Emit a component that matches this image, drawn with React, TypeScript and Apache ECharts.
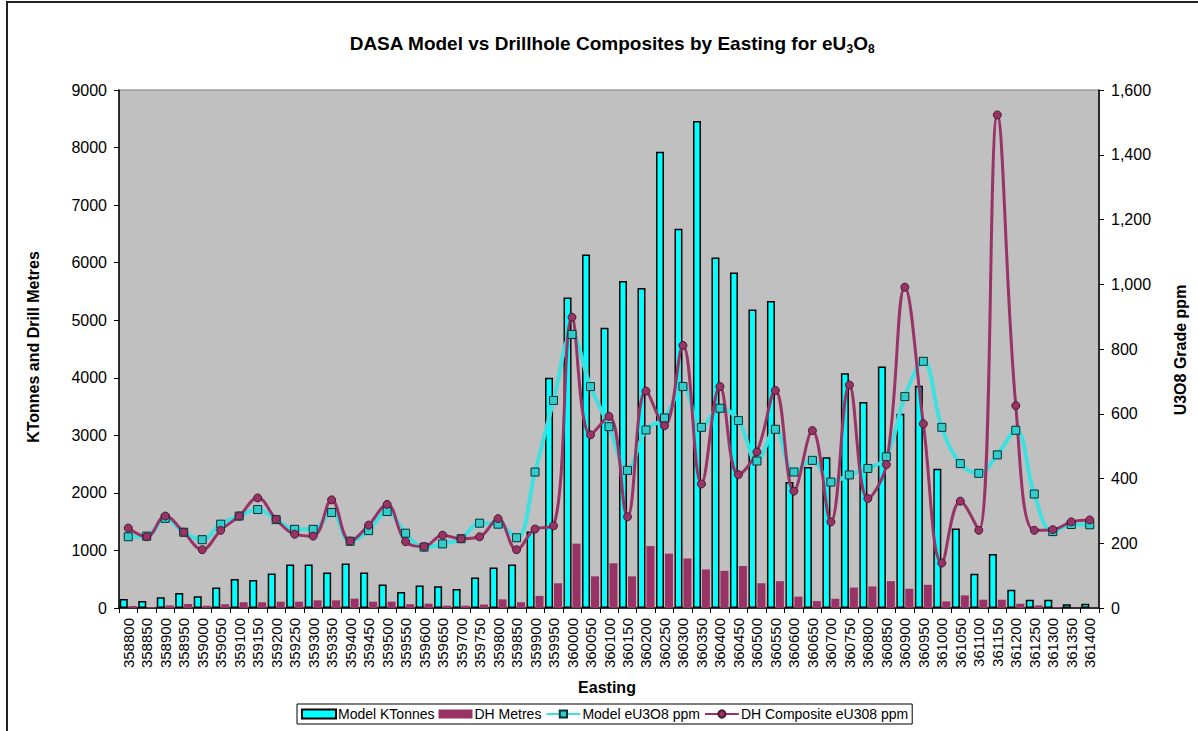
import React, { useEffect, useRef } from "react";
import * as echarts from "echarts";

const eastings: string[] = [
  "358800","358850","358900","358950","359000","359050","359100","359150","359200","359250",
  "359300","359350","359400","359450","359500","359550","359600","359650","359700","359750",
  "359800","359850","359900","359950","360000","360050","360100","360150","360200","360250",
  "360300","360350","360400","360450","360500","360550","360600","360650","360700","360750",
  "360800","360850","360900","360950","361000","361050","361100","361150","361200","361250",
  "361300","361350","361400",
];

const modelKTonnes: number[] = [
  156, 121, 185, 260, 202, 358, 503, 486, 601, 757,
  757, 618, 775, 618, 410, 277, 393, 376, 329, 532,
  705, 757, 1330, 4000, 5395, 6140, 4870, 5680, 5560, 7925,
  6590, 8460, 6090, 5830, 5185, 5335, 2190, 2450, 2620, 4080,
  3580, 4195, 3375, 3860, 2420, 1380, 593, 940, 317, 144,
  144, 63, 75,
];

const dhMetres: number[] = [
  35, 15, 45, 70, 40, 65, 100, 100, 110, 110,
  133, 133, 162, 110, 110, 65, 75, 40, 40, 60,
  150, 100, 210, 430, 1118, 550, 777, 550, 1076, 945,
  861, 670, 646, 730, 430, 466, 197, 120, 160, 355,
  374, 467, 334, 403, 115, 219, 144, 144, 75, 45,
  15, 5, 5,
];

const modelGrade: number[] = [
  220, 222, 277, 234, 211, 259, 284, 304, 273, 243,
  243, 295, 206, 239, 298, 231, 188, 198, 214, 262,
  259, 217, 420, 641, 845, 684, 560, 425, 550, 587,
  684, 558, 617, 579, 454, 552, 420, 456, 389, 411,
  431, 467, 653, 762, 558, 446, 416, 473, 549, 352,
  236, 258, 257,
];

const dhGrade: number[] = [
  247, 220, 284, 234, 180, 240, 284, 340, 274, 228,
  222, 334, 207, 256, 320, 205, 190, 225, 214, 220,
  276, 180, 244, 254, 898, 535, 592, 282, 670, 563,
  811, 383, 684, 412, 482, 672, 361, 548, 266, 689,
  338, 443, 991, 569, 139, 330, 240, 1523, 625, 240,
  242, 266, 272,
];

const FONT = "'Liberation Sans', Arial, sans-serif";

export default function App() {
  const ref = useRef<HTMLDivElement>(null);
  useEffect(() => {
    if (!ref.current) return;
    const chart = echarts.init(ref.current, undefined, { renderer: "svg" });
    chart.setOption({
      animation: false,
      backgroundColor: "#ffffff",
      textStyle: { fontFamily: FONT, color: "#000" },
      grid: {
        left: 119,
        right: 99,
        top: 90,
        bottom: 123,
        show: true,
        backgroundColor: "#C0C0C0",
        borderColor: "#808080",
        borderWidth: 1,
      },
      legend: {
        left: 297,
        top: 704,
        backgroundColor: "#ffffff",
        borderColor: "#000",
        borderWidth: 1,
        borderRadius: 0,
        padding: [3, 4, 3, 4],
        itemGap: 4,
        itemWidth: 34,
        itemHeight: 9,
        textStyle: { fontFamily: FONT, fontSize: 14, color: "#000", padding: [0, 0, 0, -3] },
        data: [
          { name: "Model KTonnes", icon: "rect" },
          { name: "DH Metres", icon: "rect" },
          { name: "Model eU3O8 ppm" },
          { name: "DH Composite eU308 ppm" },
        ],
      },
      xAxis: {
        type: "category",
        data: eastings,
        axisLine: { lineStyle: { color: "#000", width: 1.5 } },
        axisTick: { show: true, length: 5, lineStyle: { color: "#000" } },
        axisLabel: {
          interval: 0,
          rotate: 90,
          fontSize: 15,
          fontFamily: FONT,
          color: "#000",
          margin: 10,
        },
        splitLine: { show: false },
      },
      yAxis: [
        {
          type: "value",
          min: 0,
          max: 9000,
          interval: 1000,
          axisLine: { show: true, lineStyle: { color: "#000", width: 1.5 } },
          axisTick: { show: true, length: 5, lineStyle: { color: "#000" } },
          axisLabel: {
            fontSize: 16,
            fontFamily: FONT,
            color: "#000",
            margin: 12,
            formatter: (v: number) => String(v),
          },
          splitLine: { show: false },
        },
        {
          type: "value",
          min: 0,
          max: 1600,
          interval: 200,
          position: "right",
          axisLine: { show: true, lineStyle: { color: "#000", width: 1.5 } },
          axisTick: { show: true, length: 5, lineStyle: { color: "#000" } },
          axisLabel: {
            fontSize: 16,
            fontFamily: FONT,
            color: "#000",
            margin: 12,
            formatter: (v: number) => v.toLocaleString("en-US"),
          },
          splitLine: { show: false },
        },
      ],
      series: [
        {
          name: "Model KTonnes",
          type: "bar",
          data: modelKTonnes,
          barWidth: 8,
          barGap: "12%",
          itemStyle: { color: "#00FFFF", borderColor: "#000", borderWidth: 1.5 },
        },
        {
          name: "DH Metres",
          type: "bar",
          data: dhMetres,
          barWidth: 8,
          barGap: "12%",
          itemStyle: { color: "#993366" },
        },
        {
          name: "Model eU3O8 ppm",
          type: "line",
          yAxisIndex: 1,
          data: modelGrade,
          smooth: 0.4,
          symbol: "rect",
          symbolSize: 8,
          lineStyle: { color: "#3FE0E0", width: 4 },
          itemStyle: { color: "#33CCCC", borderColor: "#003333", borderWidth: 1 },
        },
        {
          name: "DH Composite eU308 ppm",
          type: "line",
          yAxisIndex: 1,
          data: dhGrade,
          smooth: 0.4,
          symbol: "circle",
          symbolSize: 8,
          lineStyle: { color: "#993366", width: 3 },
          itemStyle: { color: "#993366", borderColor: "#4a1a33", borderWidth: 1 },
        },
      ],
      graphic: [
        {
          type: "rect",
          shape: { x: 7, y: 2, width: 1200, height: 745 },
          style: { fill: "none", stroke: "#222", lineWidth: 2 },
          silent: true,
        },
        {
          type: "text",
          x: 612,
          y: 43,
          style: {
            text: "{a|DASA Model vs Drillhole Composites by Easting for eU}{s|3}{a|O}{s|8}",
            align: "center",
            verticalAlign: "middle",
            rich: {
              a: { fontFamily: FONT, fontSize: 19, fontWeight: "bold", fill: "#000", lineHeight: 24, verticalAlign: "middle" },
              s: { fontFamily: FONT, fontSize: 12, fontWeight: "bold", fill: "#000", lineHeight: 12, verticalAlign: "bottom" },
            },
          },
        },
        {
          type: "text",
          x: 33,
          y: 347,
          rotation: Math.PI / 2,
          style: {
            text: "KTonnes and Drill Metres",
            fontFamily: FONT,
            fontSize: 16,
            fontWeight: "bold",
            fill: "#000",
            align: "center",
            verticalAlign: "middle",
          },
        },
        {
          type: "text",
          x: 1180,
          y: 350,
          rotation: Math.PI / 2,
          style: {
            text: "U3O8 Grade ppm",
            fontFamily: FONT,
            fontSize: 16,
            fontWeight: "bold",
            fill: "#000",
            align: "center",
            verticalAlign: "middle",
          },
        },
        {
          type: "text",
          x: 607,
          y: 687,
          style: {
            text: "Easting",
            fontFamily: FONT,
            fontSize: 16,
            fontWeight: "bold",
            fill: "#000",
            align: "center",
            verticalAlign: "middle",
          },
        },
      ],
    });
    return () => chart.dispose();
  }, []);
  return (
    <div
      ref={ref}
      style={{ position: "fixed", left: 0, top: 0, width: 1198, height: 731 }}
    />
  );
}
